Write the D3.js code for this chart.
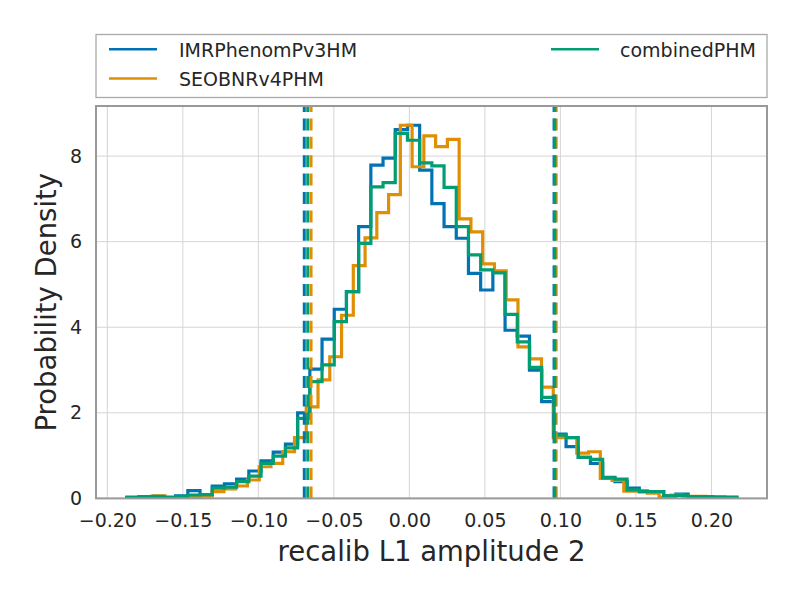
<!DOCTYPE html>
<html>
<head>
<meta charset="utf-8">
<script src="https://cdn.jsdelivr.net/npm/d3@7"></script>
<style>
  html, body { margin: 0; padding: 0; background: #fff; }
  svg { display: block; font-family: "DejaVu Sans", sans-serif; }
</style>
</head>
<body>
<svg id="chart" width="800" height="600"></svg>
<script>
// ---- data ----
const seriesNames = ["IMRPhenomPv3HM", "SEOBNRv4PHM", "combinedPHM"];
const seriesColors = ["#0173b2", "#de8f05", "#029e73"];

// histogram bin start and width (data units) per series
const binStarts = [-0.18709, -0.18510, -0.18709];
const binWidths = [0.008079, 0.007788, 0.008079];

const imrDensity = [0.02, 0.03, 0.04, 0.02, 0.06, 0.18, 0.08, 0.29, 0.34, 0.45,
  0.64, 0.88, 1.08, 1.27, 2.00, 3.02, 3.72, 4.42, 4.83, 6.35,
  7.79, 7.95, 8.62, 8.72, 7.67, 6.89, 6.35, 6.08, 5.26, 4.87,
  5.30, 3.93, 3.79, 3.00, 2.26, 1.50, 1.21, 0.96, 0.82, 0.49,
  0.39, 0.24, 0.16, 0.16, 0.06, 0.10, 0.04, 0.04, 0.03, 0.03];
const seobDensity = [0.02, 0.02, 0.06, 0.02, 0.03, 0.04, 0.05, 0.16, 0.22, 0.29,
  0.43, 0.74, 0.82, 1.09, 1.42, 2.14, 2.77, 3.31, 4.28, 5.44,
  6.09, 6.68, 7.10, 8.72, 7.75, 8.47, 8.22, 8.39, 6.53, 6.23,
  5.48, 5.32, 4.64, 3.54, 3.26, 2.60, 1.42, 1.42, 1.06, 1.09,
  0.47, 0.42, 0.17, 0.18, 0.12, 0.03, 0.08, 0.05, 0.05, 0.03];
const combinedDensity = [0.03, 0.04, 0.05, 0.03, 0.05, 0.08, 0.09, 0.24, 0.26, 0.39,
  0.52, 0.82, 0.99, 1.18, 1.87, 2.73, 3.12, 4.13, 4.83, 5.96,
  7.28, 7.38, 8.53, 8.37, 7.84, 7.77, 7.27, 6.35, 5.69, 5.34,
  5.27, 4.30, 3.66, 3.06, 2.36, 1.48, 1.42, 0.96, 0.91, 0.48,
  0.45, 0.20, 0.16, 0.16, 0.06, 0.07, 0.04, 0.04, 0.03, 0.02];

// 90% interval bounds (dashed lines)
const lowerBounds = [-0.0696, -0.0651, -0.0673];
const upperBounds = [0.0958, 0.0972, 0.0963];

const xTicks = [-0.20, -0.15, -0.10, -0.05, 0.00, 0.05, 0.10, 0.15, 0.20];
const yTicks = [0, 2, 4, 6, 8];
const xLabel = "recalib L1 amplitude 2";
const yLabel = "Probability Density";

// ---- layout ----
const svg = d3.select("#chart");
const plot = { left: 96, right: 767, top: 106, bottom: 498.4 };
const x = d3.scaleLinear().domain([-0.2075, 0.2368]).range([plot.left, plot.right]);
const y = d3.scaleLinear().domain([0, 9.17]).range([plot.bottom, plot.top]);
const textColor = "#262626";

// grid
const grid = svg.append("g");
grid.selectAll("line.gx").data(xTicks).enter().append("line")
  .attr("x1", d => x(d)).attr("x2", d => x(d))
  .attr("y1", plot.top).attr("y2", plot.bottom)
  .attr("stroke", "#d5d5d5").attr("stroke-width", 1);
grid.selectAll("line.gy").data(yTicks).enter().append("line")
  .attr("x1", plot.left).attr("x2", plot.right)
  .attr("y1", d => y(d)).attr("y2", d => y(d))
  .attr("stroke", "#d5d5d5").attr("stroke-width", 1);

// axes (tick labels only)
const xAxis = svg.append("g").attr("transform", `translate(0,${plot.bottom})`)
  .call(d3.axisBottom(x).tickValues(xTicks).tickFormat(d3.format(".2f")).tickSize(0).tickPadding(15));
xAxis.select(".domain").remove();
xAxis.selectAll("text").attr("font-size", 19).attr("fill", textColor)
  .attr("font-family", "DejaVu Sans");

const yAxis = svg.append("g").attr("transform", `translate(${plot.left},0)`)
  .call(d3.axisLeft(y).tickValues(yTicks).tickFormat(d3.format("d")).tickSize(0).tickPadding(14));
yAxis.select(".domain").remove();
yAxis.selectAll("text").attr("font-size", 19).attr("fill", textColor)
  .attr("font-family", "DejaVu Sans");

// clip
svg.append("clipPath").attr("id", "clip").append("rect")
  .attr("x", plot.left).attr("y", plot.top)
  .attr("width", plot.right - plot.left).attr("height", plot.bottom - plot.top);

const densities = [imrDensity, seobDensity, combinedDensity];
const line = d3.line().x(d => x(d[0])).y(d => y(d[1]));
const hg = svg.append("g").attr("clip-path", "url(#clip)");

densities.forEach((vals, i) => {
  const s = binStarts[i], w = binWidths[i];
  const pts = [[s, 0]];
  vals.forEach((v, k) => {
    pts.push([s + k * w, v]);
    pts.push([s + (k + 1) * w, v]);
  });
  pts.push([s + vals.length * w, 0]);
  hg.append("path").datum(pts).attr("d", line)
    .attr("fill", "none").attr("stroke", seriesColors[i])
    .attr("stroke-width", 3.2).attr("stroke-linejoin", "miter");
});

// dashed interval lines
[0, 1, 2].forEach(i => {
  [lowerBounds[i], upperBounds[i]].forEach(b => {
    hg.append("line")
      .attr("x1", x(b)).attr("x2", x(b))
      .attr("y1", plot.bottom).attr("y2", plot.top)
      .attr("stroke", seriesColors[i]).attr("stroke-width", 3)
      .attr("stroke-dasharray", "12,6.4");
  });
});

// frame
svg.append("rect").attr("x", plot.left).attr("y", plot.top)
  .attr("width", plot.right - plot.left).attr("height", plot.bottom - plot.top)
  .attr("fill", "none").attr("stroke", "#999999").attr("stroke-width", 2);

// axis labels
svg.append("text").attr("x", (plot.left + plot.right) / 2).attr("y", 561)
  .attr("text-anchor", "middle").attr("font-size", 27.5).attr("fill", textColor)
  .text(xLabel);
svg.append("text")
  .attr("transform", `translate(56,${(plot.top + plot.bottom) / 2}) rotate(-90)`)
  .attr("text-anchor", "middle").attr("font-size", 27.5).attr("fill", textColor)
  .text(yLabel);

// legend
const lg = svg.append("g");
lg.append("rect").attr("x", 96).attr("y", 34.5).attr("width", 671).attr("height", 63)
  .attr("fill", "#fff").attr("stroke", "#aaaaaa").attr("stroke-width", 1.3);
const legendPos = [
  { lx: 109, ly: 49.3, tx: 179 },
  { lx: 109, ly: 78.5, tx: 179 },
  { lx: 551, ly: 49.3, tx: 620 }
];
seriesNames.forEach((name, i) => {
  const p = legendPos[i];
  lg.append("line").attr("x1", p.lx).attr("x2", p.lx + 48)
    .attr("y1", p.ly).attr("y2", p.ly)
    .attr("stroke", seriesColors[i]).attr("stroke-width", 2.5);
  lg.append("text").attr("x", p.tx).attr("y", p.ly + 7.5)
    .attr("font-size", 19).attr("fill", textColor).text(name);
});
</script>
</body>
</html>
